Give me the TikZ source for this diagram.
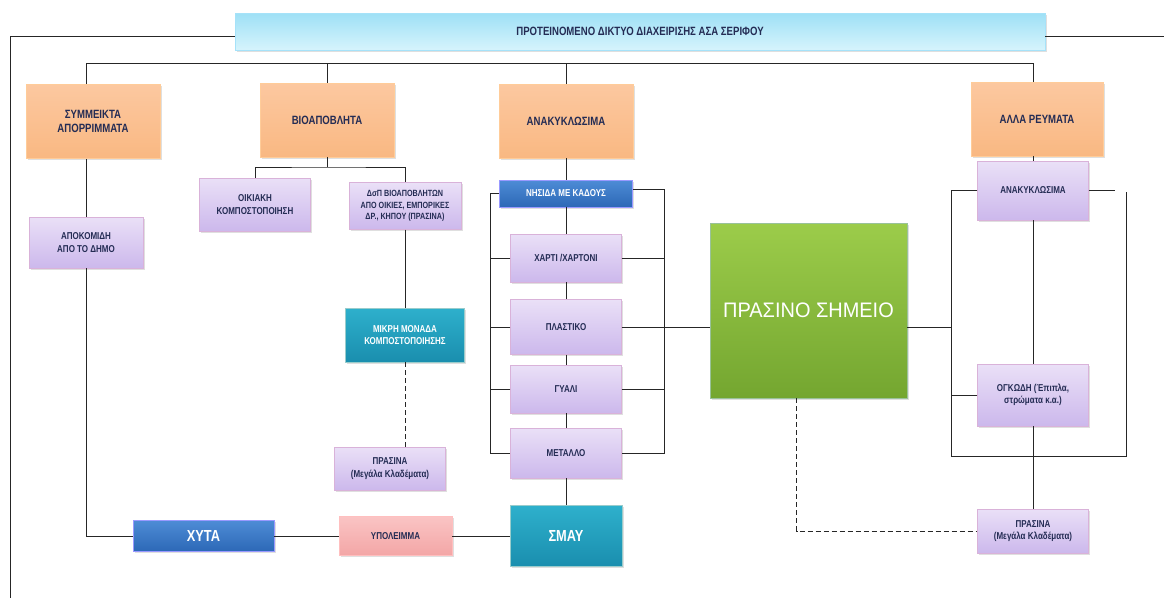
\documentclass[tikz,border=0pt]{standalone}
\usepackage{fontspec}
\setmainfont{Liberation Sans}[FakeStretch=0.8]
\newfontfamily\wideFont{Liberation Sans}[FakeStretch=0.95]
\usetikzlibrary{positioning, shadows, calc}

\definecolor{labelText}{RGB}{36,44,84}
\definecolor{titleTop}{RGB}{158,224,246}
\definecolor{titleBottom}{RGB}{214,244,252}
\definecolor{orangeTop}{RGB}{252,200,160}
\definecolor{orangeBottom}{RGB}{249,184,130}
\definecolor{purpleTop}{RGB}{234,224,247}
\definecolor{purpleBottom}{RGB}{204,184,236}
\definecolor{blueTop}{RGB}{78,140,214}
\definecolor{blueBottom}{RGB}{44,104,182}
\definecolor{tealTop}{RGB}{46,176,204}
\definecolor{tealBottom}{RGB}{26,142,174}
\definecolor{pinkTop}{RGB}{250,196,196}
\definecolor{pinkBottom}{RGB}{243,166,166}
\definecolor{greenTop}{RGB}{156,204,74}
\definecolor{greenBottom}{RGB}{116,166,48}

\tikzstyle{baseNode}=[draw=black!25, align=center, inner sep=1pt, text=labelText, font=\fontsize{10}{12.5}\selectfont\bfseries, drop shadow={opacity=0.25, shadow xshift=1.5pt, shadow yshift=-1.5pt}]
\tikzstyle{titleNode}=[baseNode, draw=cyan!35, top color=titleTop, bottom color=titleBottom, font=\fontsize{12}{14}\selectfont\bfseries, minimum width=810pt, minimum height=37pt]
\tikzstyle{orangeNode}=[baseNode, draw=orange!40, top color=orangeTop, bottom color=orangeBottom, font=\fontsize{12}{14}\selectfont\bfseries, minimum width=134pt, minimum height=74pt]
\tikzstyle{purpleNode}=[baseNode, draw=violet!30, top color=purpleTop, bottom color=purpleBottom, minimum width=111pt, minimum height=50pt]
\tikzstyle{blueNode}=[baseNode, draw=blue!40, top color=blueTop, bottom color=blueBottom, text=white]
\tikzstyle{tealNode}=[baseNode, draw=teal!40, top color=tealTop, bottom color=tealBottom, text=white]
\tikzstyle{pinkNode}=[baseNode, draw=red!25, top color=pinkTop, bottom color=pinkBottom]
\tikzstyle{greenNode}=[baseNode, draw=green!40!black!40, top color=greenTop, bottom color=greenBottom, text=white, font=\fontsize{21}{24}\selectfont\wideFont]
\tikzstyle{bigText}=[font=\fontsize{16}{18}\selectfont\bfseries]
\tikzstyle{wasteLink}=[line width=1pt, black!85]
\tikzstyle{optionalLink}=[wasteLink, dash pattern=on 5pt off 3pt]

\begin{document}
\begin{tikzpicture}[x=1pt, y=-1pt]
        \useasboundingbox (0, 0) rectangle (1164, 598);

        \node[titleNode] (title) at (640, 31.5) {ΠΡΟΤΕΙΝΟΜΕΝΟ ΔΙΚΤΥΟ ΔΙΑΧΕΙΡΙΣΗΣ ΑΣΑ ΣΕΡΙΦΟΥ};

        \node[orangeNode] (mixed) at (93, 121.5) {ΣΥΜΜΕΙΚΤΑ\\ΑΠΟΡΡΙΜΜΑΤΑ};
        \node[orangeNode] (bio) at (327, 120) {ΒΙΟΑΠΟΒΛΗΤΑ};
        \node[orangeNode] (recycl) at (566, 121) {ΑΝΑΚΥΚΛΩΣΙΜΑ};
        \node[orangeNode, minimum width=132pt] (other) at (1037, 119) {ΑΛΛΑ ΡΕΥΜΑΤΑ};

        \node[purpleNode, minimum width=114pt, minimum height=51pt] (collect) at (86, 242.5) {ΑΠΟΚΟΜΙΔΗ\\ΑΠΟ ΤΟ ΔΗΜΟ};
        \node[purpleNode, minimum height=53pt] (homeComp) at (255, 204.5) {ΟΙΚΙΑΚΗ\\ΚΟΜΠΟΣΤΟΠΟΙΗΣΗ};
        \node[purpleNode, minimum width=112pt, minimum height=47pt, font=\fontsize{9}{11.5}\selectfont\bfseries] (sepBio) at (405, 206) {ΔσΠ ΒΙΟΑΠΟΒΛΗΤΩΝ\\ΑΠΟ ΟΙΚΙΕΣ, ΕΜΠΟΡΙΚΕΣ\\ΔΡ., ΚΗΠΟΥ (ΠΡΑΣΙΝΑ)};
        \node[tealNode, minimum width=119pt, minimum height=54pt] (compUnit) at (405, 335) {ΜΙΚΡΗ ΜΟΝΑΔΑ\\ΚΟΜΠΟΣΤΟΠΟΙΗΣΗΣ};
        \node[purpleNode, minimum height=43pt] (greenL) at (390, 468.5) {ΠΡΑΣΙΝΑ\\(Μεγάλα Κλαδέματα)};

        \node[blueNode, minimum width=133pt, minimum height=27pt] (bins) at (566, 193.5) {ΝΗΣΙΔΑ ΜΕ ΚΑΔΟΥΣ};
        \node[purpleNode, minimum height=48pt] (paper) at (566, 258) {ΧΑΡΤΙ /ΧΑΡΤΟΝΙ};
        \node[purpleNode, minimum height=55pt] (plastic) at (566, 327) {ΠΛΑΣΤΙΚΟ};
        \node[purpleNode, minimum height=48pt] (glass) at (566, 389) {ΓΥΑΛΙ};
        \node[purpleNode, minimum height=50pt] (metal) at (566, 453) {ΜΕΤΑΛΛΟ};
        \node[tealNode, bigText, minimum width=112pt, minimum height=61pt] (smay) at (566, 536) {ΣΜΑΥ};
        \node[pinkNode, minimum width=113pt, minimum height=39pt] (residue) at (395.5, 536) {ΥΠΟΛΕΙΜΜΑ};
        \node[blueNode, bigText, minimum width=141pt, minimum height=31pt] (landfill) at (203.5, 536) {ΧΥΤΑ};

        \node[greenNode, minimum width=197pt, minimum height=175pt] (greenPoint) at (808.5, 310.5) {ΠΡΑΣΙΝΟ ΣΗΜΕΙΟ};

        \node[purpleNode, minimum height=59pt] (recyclR) at (1033, 190.5) {ΑΝΑΚΥΚΛΩΣΙΜΑ};
        \node[purpleNode, minimum height=62pt] (bulky) at (1033, 395) {ΟΓΚΩΔΗ (Έπιπλα,\\στρώματα κ.α.)};
        \node[purpleNode, minimum height=44pt] (greenR) at (1033, 531) {ΠΡΑΣΙΝΑ\\(Μεγάλα Κλαδέματα)};

        \coordinate (busL) at (86, 63);
        \coordinate (busR) at (1033, 63);
        \coordinate (frameL) at (10, 598);
        \coordinate (frameR) at (1164, 36.5);
        \coordinate (bioSplit) at (327, 167);
        \coordinate (colL) at (490, 0);
        \coordinate (colR) at (664, 0);
        \coordinate (sideL) at (951, 0);
        \coordinate (sideR) at (1126, 0);
        \coordinate (sideBot) at (0, 456);

        % frame and top bus
        \draw[wasteLink] ([yshift=-5pt]title.west) -| (frameL);
        \draw[wasteLink] ([yshift=-5pt]title.east) -- (frameR);
        \draw[wasteLink] (busL) -- (busR);
        \draw[wasteLink] (busL) -- (busL |- mixed.north);
        \draw[wasteLink] (bio.north) -- (bio.north |- busL);
        \draw[wasteLink] (recycl.north) -- (recycl.north |- busL);
        \draw[wasteLink] (busR) -- (busR |- other.north);

        % mixed waste
        \draw[wasteLink] (collect.north) -- (collect.north |- mixed.south);
        \draw[wasteLink] (collect.south) |- (landfill.west);
        \draw[wasteLink] (landfill) -- (residue);
        \draw[wasteLink] (residue) -- (smay);

        % bio waste
        \draw[wasteLink] (bio.south) -- (bioSplit);
        \draw[wasteLink] (homeComp.north) |- (bioSplit) -| (sepBio.north);
        \draw[wasteLink] (sepBio) -- (compUnit);
        \draw[optionalLink] (compUnit.south) -- (compUnit.south |- greenL.north);

        % recyclables
        \draw[wasteLink] (recycl) -- (bins);
        \foreach \a/\b in {bins/paper, paper/plastic, plastic/glass, glass/metal, metal/smay}
            \draw[wasteLink] (\a) -- (\b);
        \draw[wasteLink] (bins.west) -| (metal.west -| colL) -- (metal.west);
        \foreach \n in {paper, plastic, glass}
            \draw[wasteLink] (\n.west) -- (\n.west -| colL);
        \draw[wasteLink] ([yshift=4pt]bins.east) -| (metal.east -| colR) -- (metal.east);
        \foreach \n in {paper, glass}
            \draw[wasteLink] (\n.east) -- (\n.east -| colR);
        \draw[wasteLink] (plastic.east) -- (plastic.east -| greenPoint.west);

        % green point
        \draw[wasteLink] (plastic.east -| greenPoint.east) -- (plastic.east -| sideL);
        \draw[optionalLink] ([xshift=-12pt]greenPoint.south) |- (greenR.west);

        % other streams
        \draw[wasteLink] (recyclR.north) -- (recyclR.north |- other.south);
        \draw[wasteLink] (recyclR) -- (bulky);
        \draw[wasteLink] (bulky) -- (greenR);
        \draw[wasteLink] (recyclR.west) -| (sideBot -| sideL) -- (sideBot -| sideR) -- ([yshift=-1pt]recyclR.east -| sideR);
        \draw[wasteLink] (recyclR.east) -- ++(26, 0);
        \draw[wasteLink] (bulky.west) -- (bulky.west -| sideL);

\end{tikzpicture}
\end{document}
